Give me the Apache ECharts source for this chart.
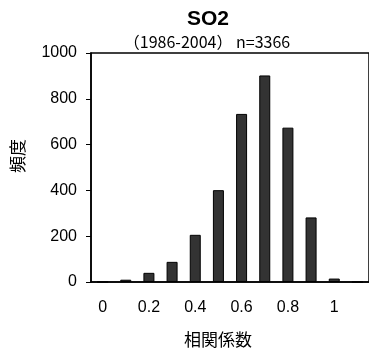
<!DOCTYPE html>
<html>
<head>
<meta charset="utf-8">
<script src="https://cdn.jsdelivr.net/npm/echarts@6/dist/echarts.min.js"></script>
<style>
html, body { margin: 0; padding: 0; background: #fff; }
#chart { width: 369px; height: 349px; }
</style>
</head>
<body>
<div id="chart"></div>
<script>
// 相関係数の階級 (1.1 は空の階級)
var categories = ['0', '0.1', '0.2', '0.3', '0.4', '0.5', '0.6', '0.7', '0.8', '0.9', '1', '1.1'];
var counts = [0, 10, 40, 88, 206, 401, 734, 902, 674, 282, 15, 0];
var yTicks = [0, 200, 400, 600, 800, 1000];

var myChart = echarts.init(document.getElementById('chart'));
var option = {
    animation: false,
    backgroundColor: '#fff',
    grid: {
        left: 91,
        top: 53,
        width: 284,
        height: 229,
        show: true,
        borderColor: '#000',
        borderWidth: 1.5
    },
    graphic: [
        { type: 'text', x: 208, y: 19, style: { text: 'SO2', textAlign: 'center', textVerticalAlign: 'middle', font: 'bold 21px "Liberation Sans", Arial', fill: '#000' } },
        { type: 'text', x: 207, y: 42, style: { text: '（1986-2004） n=3366', textAlign: 'center', textVerticalAlign: 'middle', font: '16px "Noto Sans CJK JP"', fill: '#000' } },
        { type: 'text', x: 218, y: 340, style: { text: '相関係数', textAlign: 'center', textVerticalAlign: 'middle', font: '17px "Noto Sans CJK JP"', fill: '#000' } },
        { type: 'text', x: 18, y: 156, rotation: Math.PI / 2, style: { text: '頻度', textAlign: 'center', textVerticalAlign: 'middle', font: '17px "Noto Sans CJK JP"', fill: '#000' } }
    ],
    xAxis: {
        type: 'category',
        data: categories,
        axisLine: { lineStyle: { color: '#000', width: 1.5 } },
        axisTick: { inside: true, length: 5, interval: 1, lineStyle: { color: '#000' } },
        axisLabel: {
            interval: 1,
            margin: 18,
            color: '#000',
            fontSize: 16,
            fontFamily: '"Liberation Sans", Arial',
            formatter: function (v) { return v === '1.1' ? '' : v; }
        }
    },
    yAxis: {
        type: 'value',
        min: yTicks[0],
        max: yTicks[yTicks.length - 1],
        interval: 200,
        splitLine: { show: false },
        axisLine: { show: true, lineStyle: { color: '#000', width: 1.5 } },
        axisTick: { show: true, length: 5, lineStyle: { color: '#000' } },
        axisLabel: {
            margin: 14,
            color: '#000',
            fontSize: 16,
            fontFamily: '"Liberation Sans", Arial',
            formatter: function (v) { return String(v); }
        }
    },
    series: [{
        type: 'bar',
        data: counts,
        barWidth: 11,
        itemStyle: { color: '#333', borderColor: '#000', borderWidth: 1 }
    }]
};
myChart.setOption(option);
</script>
</body>
</html>
